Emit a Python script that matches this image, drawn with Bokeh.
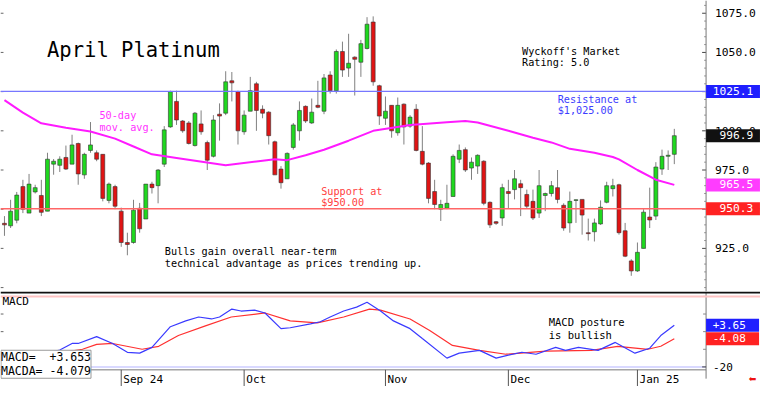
from bokeh.plotting import figure
from bokeh.models import Range1d, Label, Span, ColumnDataSource
from bokeh.core.properties import value
from bokeh.layouts import column
from bokeh.embed import file_html
from bokeh.resources import INLINE

# ---------------- data ----------------
opens = [941, 939.4, 943, 964.4, 947.5, 961, 958.75, 948.75, 978.75, 978,
         983, 978.75, 991.9, 971.9, 987.5, 986, 985, 955.6, 964.4, 948.75,
         928.75, 928.75, 950.6, 943.75, 966, 965, 978.75, 1002.5, 1018.75, 1006.25,
         1005, 990.6, 1004.4, 992.5, 983.75, 1010.6, 1011.25, 1031.9, 1025, 999.4,
         1012.5, 1030, 1013.75, 1011.9, 993, 975.6, 969.4, 989.4, 1000, 1015.6,
         1005, 1016.25, 1012.5, 1035.6, 1025.6, 1050.6, 1040, 1047, 1043.75, 1052.5,
         1069.4, 1028.75, 1008, 1016.25, 998.75, 1017, 1003, 1013.75, 986.9, 979.4,
         961.25, 950, 950.6, 958.1, 981.9, 988, 976.25, 977.5, 980.6, 954.4,
         942, 944.4, 961.25, 962.5, 966.25, 959.4, 955, 947.5, 958.75, 960,
         963.75, 952.5, 941.25, 955.6, 956.25, 935, 935.6, 940.6, 954.4, 963.1,
         965.6, 936.25, 917, 910.6, 925, 945, 945.6, 975.6, 983.75, 985]
highs = [945.6, 956, 961, 968.75, 972.5, 965.6, 968.75, 986, 982, 983.75,
         990.6, 997.5, 992.5, 986, 1005.6, 987.5, 985, 967, 965.6, 951,
         935, 956, 954, 966, 967.5, 975.6, 1003, 1025.6, 1025.6, 1006.9,
         1006.25, 1012, 1013, 993.75, 1010, 1017.5, 1038, 1037.5, 1025.6, 1013,
         1034.4, 1031.25, 1016.25, 1012.5, 993.75, 977.5, 986.25, 1005, 1018.75, 1016.25,
         1020.6, 1031.9, 1036.25, 1038, 1051.9, 1056.9, 1061.9, 1047.5, 1058, 1072.5,
         1073, 1029.4, 1021.9, 1016.25, 1021.25, 1017.5, 1010, 1017, 1003, 980,
         968.75, 956, 965.6, 985, 991.25, 989.4, 983, 985, 981.25, 955,
         942.5, 966.25, 968.75, 975, 968.75, 962.5, 962.5, 975, 960.6, 968,
         975, 953.75, 961.25, 956.25, 956.25, 944, 944, 955.6, 967.5, 969.4,
         966.25, 941.25, 918.1, 928.75, 950, 963.75, 980, 988, 987.5, 1001.25]
lows = [933, 938, 941, 947.5, 947.5, 960, 945.6, 948.75, 972, 973.75,
        975, 978.75, 965.6, 969.4, 986, 980.6, 955, 953.75, 950, 926,
        920.6, 928, 935, 943.75, 960, 953.75, 976.9, 1001.9, 1003.75, 998.75,
        991.25, 990, 997.5, 975, 983, 993.75, 1010, 1018.75, 991.25, 997.5,
        1012.5, 1000, 1008, 991.25, 971.9, 963.1, 969.4, 988, 993.75, 1005,
        1004.4, 1014.4, 1010.6, 1023.75, 1023.75, 1034.4, 1034.4, 1022.5, 1034.4, 1051.9,
        1028.75, 1003.75, 1003.75, 995.6, 996.9, 991.25, 1001.9, 986.9, 978, 953.75,
        950, 942.5, 950, 958.1, 979.4, 973.75, 968.75, 972.5, 952.5, 938,
        940, 939.4, 950.6, 956.25, 945.6, 950.6, 943.1, 944.4, 948.75, 958.1,
        953.75, 936.25, 935, 941.25, 933.75, 930, 929.4, 940, 953.75, 958.1,
        933.75, 919.4, 907.5, 910, 925, 938, 943.1, 971.9, 975, 978.75]
closes = [940, 948.75, 959, 950, 966, 963.75, 948, 981.9, 980.6, 981.9,
          975.6, 991, 972.5, 985, 991, 981.9, 956.9, 966, 951.9, 928.75,
          927.5, 949.4, 937.5, 966, 963.75, 975, 1000.6, 1025, 1006.9, 1000,
          991.9, 1011.25, 999.4, 981.25, 1006.9, 1009.4, 1031.25, 1030.6, 1000, 1010,
          1025.6, 1013, 1011.25, 996.9, 971.9, 966.9, 985.6, 1003.75, 1013, 1006.25,
          1011.9, 1015, 1033.75, 1025.6, 1050.6, 1038.75, 1043.1, 1045.6, 1055.6, 1068,
          1031.25, 1009.4, 1012.5, 1000, 1016.25, 1002.5, 1008.75, 987.5, 978.75, 956.9,
          953, 953, 953.75, 983.75, 987.5, 975, 980, 984.4, 953.75, 940,
          941, 963.75, 960, 969.4, 963.75, 951.9, 944.4, 965, 960, 965,
          956.25, 938, 955, 956, 946.25, 934.4, 941.25, 951.25, 965, 965,
          935, 920, 910.6, 922.5, 948.1, 943.1, 976.9, 983.75, 984.4, 996.9]
bar_index = list(range(len(closes)))

ma_index = [0, 3, 6, 10, 14, 18, 21, 24, 28, 36, 41, 44, 46, 49, 52, 56, 60, 66, 72,
            75, 77, 82, 86, 89, 92, 96, 99, 100, 103, 106, 109]
ma_values = [1019.6, 1011.6, 1004.8, 1002, 999.6, 995, 990, 985, 982.7, 978.1, 980.5,
             981.9, 981.3, 984.4, 987.9, 993.7, 1000, 1003.7, 1005.5, 1006.2, 1005.3,
             1000, 995.6, 992.6, 988.5, 986, 983.3, 981.8, 975, 968.8, 965.5]

macd_index = [0, 4, 7, 9, 11, 12, 15, 17.6, 20, 22, 24, 27, 29.5, 31.6, 33.7, 35, 37, 38.5,
              40.7, 42.4, 45, 46.5, 49.8, 51.4, 53, 55.2, 57.3, 59, 61.2, 63.3, 66, 68,
              72, 74, 77.3, 80, 82, 84.2, 86.5, 89.7, 91.3, 93.4, 96.6, 99.4, 102.6, 105,
              106.8, 109]
macd_values = [-14, -13, -12, -10.4, -6.7, -6.7, -2.8, -6.7, -11.7, -12.2, -8.9, 2.8, 6.1,
               8.3, 7.2, 8.3, 12.8, 11.7, 12.2, 10.6, 1.7, 2.2, 4.4, 5.6, 8.3, 11.7, 13.9,
               16.7, 11.7, 6.1, 1.7, -3.9, -15, -12.2, -10.6, -15, -13.3, -11.7, -12.8,
               -8.9, -10.6, -8.9, -10.6, -6.1, -12.2, -9.4, -2.2, 3.653]
signal_index = [0, 6, 10, 12.7, 15, 17.6, 22.4, 25.1, 28.3, 32.7, 36.9, 42.4, 46.5, 50.9,
                55.2, 59.4, 61.2, 66, 69.2, 72.9, 77.3, 81.6, 88.1, 95.5, 99.8, 104.7,
                106.8, 109]
signal_values = [-14, -13, -11.5, -10, -7.2, -6.7, -10, -8.3, -2.2, 3.3, 8.3, 10.6, 6.1, 5,
                 8.3, 12.8, 12.2, 7.2, 0.6, -7.8, -10.6, -12.8, -11.1, -10.6, -8.3, -10,
                 -8.3, -4.079]

resistance = 1025.1
support = 950.3
last_close = 996.9
last_ma = 965.5
macd_last = 3.653
macda_last = -4.079
macd_upper = 20
macd_lower = -20

month_ticks = [19, 39, 62, 82, 103]
month_labels = ["Sep 24", "Oct", "Nov", "Dec", "Jan 25"]
price_ticks = [925, 950, 975, 1000, 1025, 1050, 1075]
price_left_ticks = [900, 925, 950, 975, 1000, 1025, 1050, 1075]
price_minor = [v for v in range(900, 1085, 5) if v not in price_ticks]
macd_ticks = [-20]
macd_minor = [-10, 0, 10, 20]
macd_left_ticks = [0, 10]

# ---------------- layout helpers (reference pixel -> data) ----------------
W, H = 760, 386
REF_H = 394
MONO = "DejaVu Sans Mono"


def ix(xr):
    return (xr - 4) / 6.21


def py(yr):
    return 1075 - (yr - 13) / 1.6


def my(yr):
    return (338 - yr) / 1.8


main_h = round(297 * H / REF_H)
xr = Range1d(ix(0), ix(768))


def base_fig(height, y_range):
    f = figure(width=W, height=height, x_range=xr, y_range=y_range,
               output_backend="svg", toolbar_location=None,
               x_axis_location=None, y_axis_location=None,
               min_border_left=0, min_border_right=0, min_border_top=0, min_border_bottom=0)
    f.grid.visible = False
    f.outline_line_color = None
    f.background_fill_color = "white"
    f.border_fill_color = "white"
    return f


def note(fig, xr_, yr_, text, color, size, yfun, **kw):
    fig.add_layout(Label(x=ix(xr_), y=yfun(yr_), text=text, text_color=color,
                         text_font=MONO, text_font_size=f"{size}px",
                         text_baseline="top", text_align="left",
                         text_line_height=1.05, **kw))


def tag(fig, val, text, bg, size):
    fig.add_layout(Label(x=ix(713), y=val, text=text,
                         text_color="white", text_font=MONO, text_font_size=f"{size}px",
                         text_baseline="middle", text_align="left",
                         background_fill_color=bg))


NB = "\u00a0"

# ---------------- main price panel ----------------
p = base_fig(main_h, Range1d(py(297), py(0)))

src = ColumnDataSource(dict(
    x=bar_index,
    high=highs, low=lows,
    top=[max(o, c) for o, c in zip(opens, closes)],
    bottom=[min(o, c) for o, c in zip(opens, closes)],
    color=["#1fd81f" if c >= o else "#e01414" for o, c in zip(opens, closes)],
))

# price scale on the right (axis line, ticks, tick labels)
p.add_layout(Span(location=ix(713), dimension="height", line_color="#777777", line_width=1))
p.segment(x0=ix(709), x1=ix(713), y0=price_ticks, y1=price_ticks, line_color="#444444")
p.segment(x0=ix(711), x1=ix(713), y0=price_minor, y1=price_minor, line_color="#999999")
p.segment(x0=ix(0), x1=ix(3), y0=price_left_ticks, y1=price_left_ticks, line_color="#666666")
p.text(x=ix(722), y=price_ticks, text=[f"{v:.1f}" for v in price_ticks],
       text_font=value(MONO), text_font_size="11.3px", text_color="black",
       text_baseline="middle", text_align="left")

p.add_layout(Span(location=resistance, dimension="width", line_color="#7777ff", line_width=1.3))
p.add_layout(Span(location=support, dimension="width", line_color="#ff6666", line_width=1.3))

p.segment(x0="x", y0="low", x1="x", y1="high", source=src, line_color="#808080", line_width=1)
p.vbar(x="x", width=0.64, top="top", bottom="bottom", source=src,
       fill_color="color", line_color="#333333", line_width=0.6)
p.line(ma_index, ma_values, line_color="#ff1aff", line_width=2)

note(p, 47, 38, "April Platinum", "black", 20.5, py)
note(p, 527, 46, "Wyckoff's Market\nRating: 5.0", "black", 10.2, py)
note(p, 563, 95, "Resistance at\n$1,025.00", "#3c3cff", 10.2, py)
note(p, 100, 112, "50-day\nmov. avg.", "#ff33ff", 10.2, py)
note(p, 324, 189, "Support at\n$950.00", "#ff4040", 10.2, py)
note(p, 166, 251, "Bulls gain overall near-term\ntechnical advantage as prices trending up.",
     "black", 10.2, py)

tag(p, resistance, NB + f"{resistance:.1f}" + NB, "#1f1fff", 11.2)
tag(p, last_close, NB + NB + f"{last_close:.1f}" + NB, "#111111", 11.2)
tag(p, last_ma, NB + NB + f"{last_ma:.1f}" + NB, "#ff3cff", 11.2)
tag(p, support, NB + NB + f"{support:.1f}" + NB, "#ff2222", 11.2)

# ---------------- MACD panel (with date scale underneath) ----------------
q = base_fig(H - main_h, Range1d(my(394), my(297)))
y_axis = my(377)

q.add_layout(Span(location=macd_upper, dimension="width", line_color="#ffc4c4", line_width=2))
q.line([ix(0), ix(713)], [macd_lower, macd_lower], line_color="#ccccff", line_width=1.5)
q.add_layout(Span(location=my(298), dimension="width", line_color="#111111", line_width=2))

# right scale for MACD
q.segment(x0=ix(713), x1=ix(713), y0=my(297), y1=my(386), line_color="#777777")
q.segment(x0=ix(709), x1=ix(713), y0=macd_ticks, y1=macd_ticks, line_color="#444444")
q.segment(x0=ix(710), x1=ix(713), y0=macd_minor, y1=macd_minor, line_color="#888888")
q.segment(x0=ix(0), x1=ix(3), y0=macd_left_ticks, y1=macd_left_ticks, line_color="#666666")
q.text(x=ix(720), y=macd_ticks, text=[f"{v:d}" for v in macd_ticks],
       text_font=value(MONO), text_font_size="11px", text_color="black",
       text_baseline="middle", text_align="left")

# date scale
q.line([ix(0), ix(713)], [y_axis, y_axis], line_color="#777777", line_width=1)
q.segment(x0=month_ticks, x1=month_ticks, y0=y_axis, y1=my(394), line_color="#555555")
q.text(x=[t + 0.35 for t in month_ticks], y=my(380), text=month_labels,
       text_font=value(MONO), text_font_size="11px", text_color="black",
       text_baseline="top", text_align="left")

q.line(signal_index, signal_values, line_color="#ff3030", line_width=1.2)
q.line(macd_index, macd_values, line_color="#3a3aff", line_width=1.2)

note(q, 2, 301, "MACD", "black", 11, my)
note(q, 554, 322, "MACD posture\nis bullish", "black", 10.5, my)
q.add_layout(Label(x=ix(0.5), y=my(357), text="MACD=" + NB + NB + f"{macd_last:+.3f}" +
                   "\nMACDA=" + NB + f"{macda_last:+.3f}",
                   text_color="black", text_font=MONO, text_font_size="11.5px",
                   text_baseline="top", text_align="left", text_line_height=1.0,
                   background_fill_color="white", border_line_color="#999999"))

tag(q, macd_last, NB + f"{macd_last:+.2f}" + NB + NB, "#1f1fff", 11)
tag(q, macda_last, NB + f"{macda_last:+.2f}" + NB + NB, "#ff2222", 11)

q.add_layout(Label(x=ix(756), y=my(386.5), text="\u2b05", text_color="#ee1111",
                   text_font="DejaVu Sans", text_font_size="9px",
                   text_baseline="middle", text_align="left"))

layout = column(p, q, spacing=0)
open("out.html", "w").write(file_html(layout, INLINE))
